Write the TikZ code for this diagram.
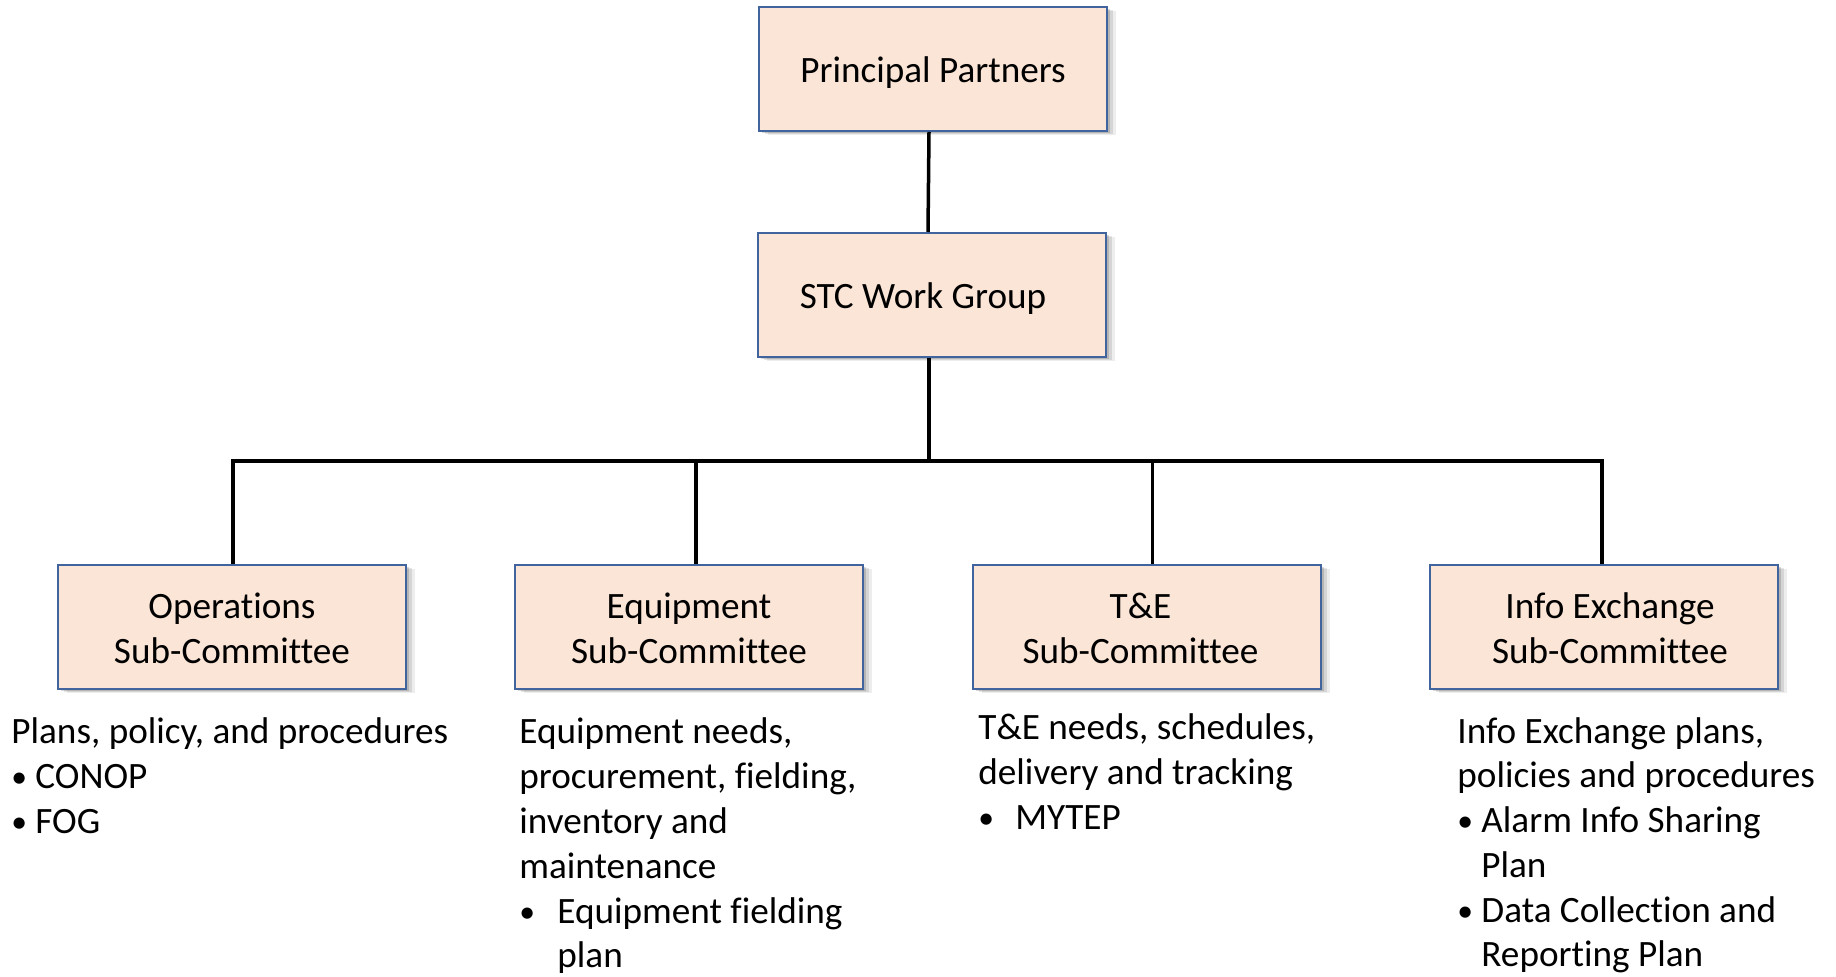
\documentclass[tikz,border=0pt]{standalone}
\usepackage{fontspec}
\setmainfont{Carlito}[Ligatures={TeX,NoCommon}]
\usetikzlibrary{shadows}
\definecolor{boxfill}{HTML}{FBE5D6}
\definecolor{boxline}{HTML}{41649F}
\newcommand\bxfont{\fontsize{18.6pt}{22.4pt}\selectfont}
\newcommand\dscfont{\fontsize{18.6pt}{22.4pt}\selectfont}
\newcommand\bul[1]{\makebox[#1][l]{\raisebox{0.05ex}{\scalebox{0.85}{•}}}}
\begin{document}
\begin{tikzpicture}[x=0.5pt,y=-0.5pt,
  shadowed/.style={
    drop shadow={shadow xshift=1.5pt,shadow yshift=-1pt,opacity=0.15,fill=black},
    drop shadow={shadow xshift=3pt,shadow yshift=-1.5pt,opacity=0.10,fill=black},
    drop shadow={shadow xshift=4.5pt,shadow yshift=-2pt,opacity=0.07,fill=black}},
  box/.style={shadowed,draw=boxline,line width=1pt,fill=boxfill,
    minimum width=174pt,minimum height=62pt,inner sep=0pt,font=\bxfont},
  onebox/.style={box,text height=16pt,text depth=2pt},
  twobox/.style={box,text height=5pt,text depth=13pt},
  conn/.style={line width=1.75pt,black},
  desc/.style={anchor=base west,inner sep=0pt,font=\dscfont}]
\useasboundingbox (0,0) rectangle (1836,977);

% boxes
\node[onebox] (pp) at (933,69) {Principal Partners};
\node[onebox] (stc) at (932,295) {\hspace*{-9pt}STC Work Group};
\node[twobox] (ops) at (232,627) {\begin{tabular}[t]{@{}c@{}}Operations\\Sub-Committee\end{tabular}};
\node[twobox] (equip) at (689,627) {\begin{tabular}[t]{@{}c@{}}Equipment\\Sub-Committee\end{tabular}};
\node[twobox] (te) at (1146.5,627) {\hspace*{-6pt}\begin{tabular}[t]{@{}c@{}}T\&E\\Sub-Committee\end{tabular}};
\node[twobox] (info) at (1604,627) {\hspace*{6pt}\begin{tabular}[t]{@{}c@{}}Info Exchange\\Sub-Committee\end{tabular}};

% connectors
\coordinate (bar) at (929,461);
\draw[conn] ([xshift=-2pt]pp.south) -- ([xshift=-2pt]stc.north);
\draw[conn] ([xshift=-1.5pt]stc.south) -- ([xshift=-1.5pt]stc.south |- bar);
\draw[conn] ([xshift=0.5pt]ops.north) -- ([xshift=0.5pt]ops.north |- bar)
  -- ([xshift=-1pt]info.north |- bar) -- ([xshift=-1pt]info.north);
\draw[conn] ([xshift=3.5pt]equip.north) -- ([xshift=3.5pt]equip.north |- bar);
\draw[conn] ([xshift=3pt]te.north) -- ([xshift=3pt]te.north |- bar);

% descriptions
\node[desc] (opsd) at (11,744) {\begin{tabular}[t]{@{}l@{}}
Plans, policy, and procedures\\
\bul{12pt}CONOP\\
\bul{12pt}FOG
\end{tabular}};
\node[desc] (equipd) at (519,744) {\begin{tabular}[t]{@{}l@{}}
Equipment needs,\\
procurement, fielding,\\
inventory and\\
maintenance\\
\bul{19pt}Equipment fielding\\
\hspace*{19pt}plan
\end{tabular}};
\node[desc] (ted) at (978,740) {\begin{tabular}[t]{@{}l@{}}
T\&E needs, schedules,\\
delivery and tracking\\
\bul{18.5pt}MYTEP
\end{tabular}};
\node[desc] (infod) at (1457,743) {\begin{tabular}[t]{@{}l@{}}
Info Exchange plans,\\
policies and procedures\\
\bul{12pt}Alarm Info Sharing\\
\hspace*{12pt}Plan\\
\bul{12pt}Data Collection and\\
\hspace*{12pt}Reporting Plan
\end{tabular}};
\end{tikzpicture}
\end{document}
